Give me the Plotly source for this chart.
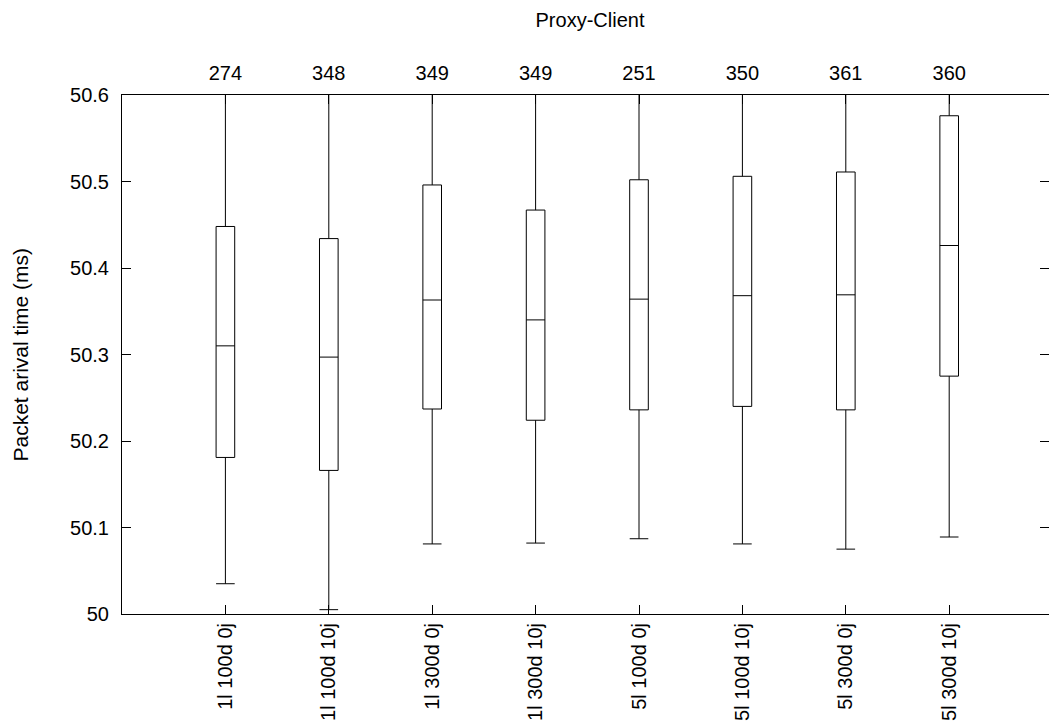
import plotly.graph_objects as go

categories = ["1l 100d 0j", "1l 100d 10j", "1l 300d 0j", "1l 300d 10j",
              "5l 100d 0j", "5l 100d 10j", "5l 300d 0j", "5l 300d 10j"]
counts = ["274", "348", "349", "349", "251", "350", "361", "360"]
positions = [1, 2, 3, 4, 5, 6, 7, 8]
lower_whisker = [50.035, 50.005, 50.081, 50.082, 50.087, 50.081, 50.075, 50.089]
q1 = [50.181, 50.166, 50.237, 50.224, 50.236, 50.240, 50.236, 50.275]
median = [50.310, 50.297, 50.363, 50.340, 50.364, 50.368, 50.369, 50.426]
q3 = [50.448, 50.434, 50.496, 50.467, 50.502, 50.506, 50.511, 50.576]
upper_whisker = [50.75, 50.74, 50.78, 50.76, 50.80, 50.79, 50.80, 50.85]

FONT = "Liberation Sans, Arial, sans-serif"
W, H = 1049, 725
L, R, T, B = 122, 0, 95, 725 - 614
xmax = (W - L) / 103.4

fig = go.Figure()
fig.add_trace(go.Box(
    x=positions, q1=q1, median=median, q3=q3,
    lowerfence=lower_whisker, upperfence=upper_whisker,
    width=0.18, whiskerwidth=1, boxpoints=False,
    line=dict(color="black", width=1), fillcolor="rgba(255,255,255,0)",
    showlegend=False, hoverinfo="skip",
))
fig.add_trace(go.Scatter(
    x=positions, y=median, xaxis="x2", mode="markers",
    marker=dict(opacity=0), showlegend=False, hoverinfo="skip",
))

fig.update_layout(
    width=W, height=H,
    margin=dict(l=L, r=R, t=T, b=B, autoexpand=False),
    paper_bgcolor="white", plot_bgcolor="white",
    font=dict(family=FONT, size=20, color="black"),
    title=dict(text="Proxy-Client", x=590 / W, xanchor="center", xref="container",
               y=1 - 20 / H, yanchor="middle", yref="container",
               font=dict(family=FONT, size=20, color="black")),
    xaxis=dict(range=[0, xmax], tickvals=positions, ticktext=categories,
               tickangle=-90, ticks="inside", ticklen=9, tickcolor="black",
               showline=True, linecolor="black", linewidth=1, mirror="ticks",
               showgrid=False, zeroline=False, ticklabelstandoff=0,
               automargin=False,
               tickfont=dict(family=FONT, size=20, color="black")),
    xaxis2=dict(range=[0, xmax], overlaying="x", side="top", anchor="y",
                tickvals=positions, ticktext=counts, ticks="",
                showline=False, showgrid=False, zeroline=False,
                ticklabelstandoff=10, automargin=False,
                tickfont=dict(family=FONT, size=20, color="black")),
    yaxis=dict(range=[50, 50.6], tickvals=[50, 50.1, 50.2, 50.3, 50.4, 50.5, 50.6],
               ticktext=["50", "50.1", "50.2", "50.3", "50.4", "50.5", "50.6"],
               ticks="inside", ticklen=9, tickcolor="black",
               showline=True, linecolor="black", linewidth=1, mirror="ticks",
               showgrid=False, zeroline=False, ticklabelstandoff=8,
               automargin=False,
               tickfont=dict(family=FONT, size=20, color="black")),
    annotations=[dict(text="Packet arival time (ms)", textangle=-90,
                      xref="paper", yref="paper", x=0, y=0.5,
                      xanchor="center", yanchor="middle", xshift=-(L - 20),
                      showarrow=False,
                      font=dict(family=FONT, size=21, color="black"))],
)

fig.write_html("out.html", config={"displayModeBar": False},
               post_script="document.body.style.margin='0';document.body.style.overflow='hidden';")
